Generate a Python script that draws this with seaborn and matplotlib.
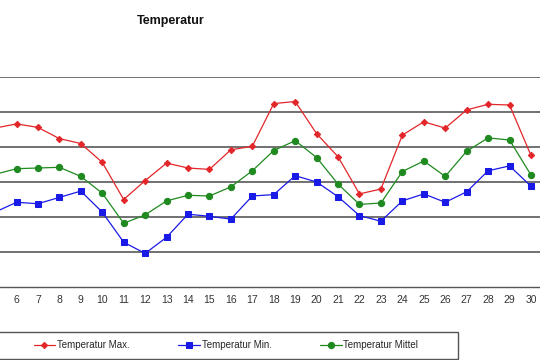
import matplotlib
matplotlib.use("Agg")
import matplotlib.pyplot as plt
from matplotlib.patches import Rectangle
from matplotlib.ticker import FixedLocator
import seaborn as sns
import pandas as pd

days = list(range(5, 31))
t_max = [22.7, 23.3, 22.8, 21.2, 20.5, 17.8, 12.5, 15.2, 17.7, 17.0, 16.8, 19.6, 20.1,
         26.2, 26.5, 21.9, 18.6, 13.3, 14.0, 21.7, 23.6, 22.7, 25.3, 26.1, 26.0, 18.8]
t_min = [10.7, 12.1, 11.9, 12.8, 13.7, 10.7, 6.4, 4.8, 7.1, 10.4, 10.1, 9.7, 13.0,
         13.2, 15.9, 15.0, 12.9, 10.2, 9.4, 12.3, 13.3, 12.1, 13.6, 16.6, 17.3, 14.4]
t_mid = [16.1, 16.9, 17.0, 17.1, 15.8, 13.4, 9.1, 10.3, 12.3, 13.1, 13.0, 14.3, 16.6,
         19.5, 20.9, 18.5, 14.7, 11.8, 12.0, 16.5, 18.0, 15.8, 19.4, 21.3, 21.0, 16.0]
tick_days = list(range(6, 31))
series_names = ["Temperatur Max.", "Temperatur Min.", "Temperatur Mittel"]
title = "Temperatur"

df = pd.DataFrame({"Tag": days, series_names[0]: t_max,
                   series_names[1]: t_min, series_names[2]: t_mid})

sns.set_style("white")
plt.rcParams["font.family"] = ["Liberation Sans", "DejaVu Sans"]

W, H = 540, 360
fig = plt.figure(figsize=(W / 100, H / 100), dpi=100)
left_px, right_px = -101.4, 541.7
top_px, bot_px = 77, 287
ax = fig.add_axes([left_px / W, 1 - bot_px / H, (right_px - left_px) / W, (bot_px - top_px) / H])

styles = [
    (series_names[0], "#e3262a", "D", 3.2),
    (series_names[1], "#1a1ae6", "s", 4.3),
    (series_names[2], "#1f8a1f", "o", 4.5),
]
for name, col, mk, ms in styles:
    sns.lineplot(data=df, x="Tag", y=name, ax=ax, color=col, marker=mk,
                 markersize=ms, markeredgecolor=col, linewidth=0.9, label=name)

ax.set_xlim(0.5, 30.5)
ax.set_ylim(0, 30)
ax.set_yticks([5, 10, 15, 20, 25, 30])
ax.yaxis.grid(True, color="#4a4a4a", linewidth=1.1)
ax.set_axisbelow(True)
ax.set_yticklabels([])
ax.tick_params(axis="y", length=0)

ax.set_xticks(tick_days)
ax.set_xticklabels([str(d) for d in tick_days], fontsize=7.5, color="#333333")
ax.xaxis.set_minor_locator(FixedLocator([d + 0.5 for d in range(0, 31)]))
ax.tick_params(axis="x", which="major", length=0, pad=6)
ax.tick_params(axis="x", which="minor", length=3, width=0.8, color="#555555", direction="out")
for s in ["left", "right", "top"]:
    ax.spines[s].set_visible(False)
ax.spines["bottom"].set_color("#555555")
ax.spines["bottom"].set_linewidth(1.0)
ax.set_xlabel("")
ax.set_ylabel("")

handles, labels = ax.get_legend_handles_labels()
ax.get_legend().remove()

# legend frame
fig.patches.append(Rectangle((-10 / W, 1 - 359 / H), (458 + 10) / W, (359 - 332) / H,
                             transform=fig.transFigure, fill=False,
                             edgecolor="#555555", linewidth=1.0))
leg = fig.legend(handles, labels, loc="center left",
                 bbox_to_anchor=(25 / W, 1 - 345.5 / H), ncol=3, frameon=False,
                 fontsize=7, handlelength=2.2, handletextpad=0.2, columnspacing=5.0)

fig.text(171 / W, 1 - 21 / H, title, ha="center", va="center",
         fontsize=9, fontweight="bold", color="#111111")

fig.savefig("out.png", dpi=100)
